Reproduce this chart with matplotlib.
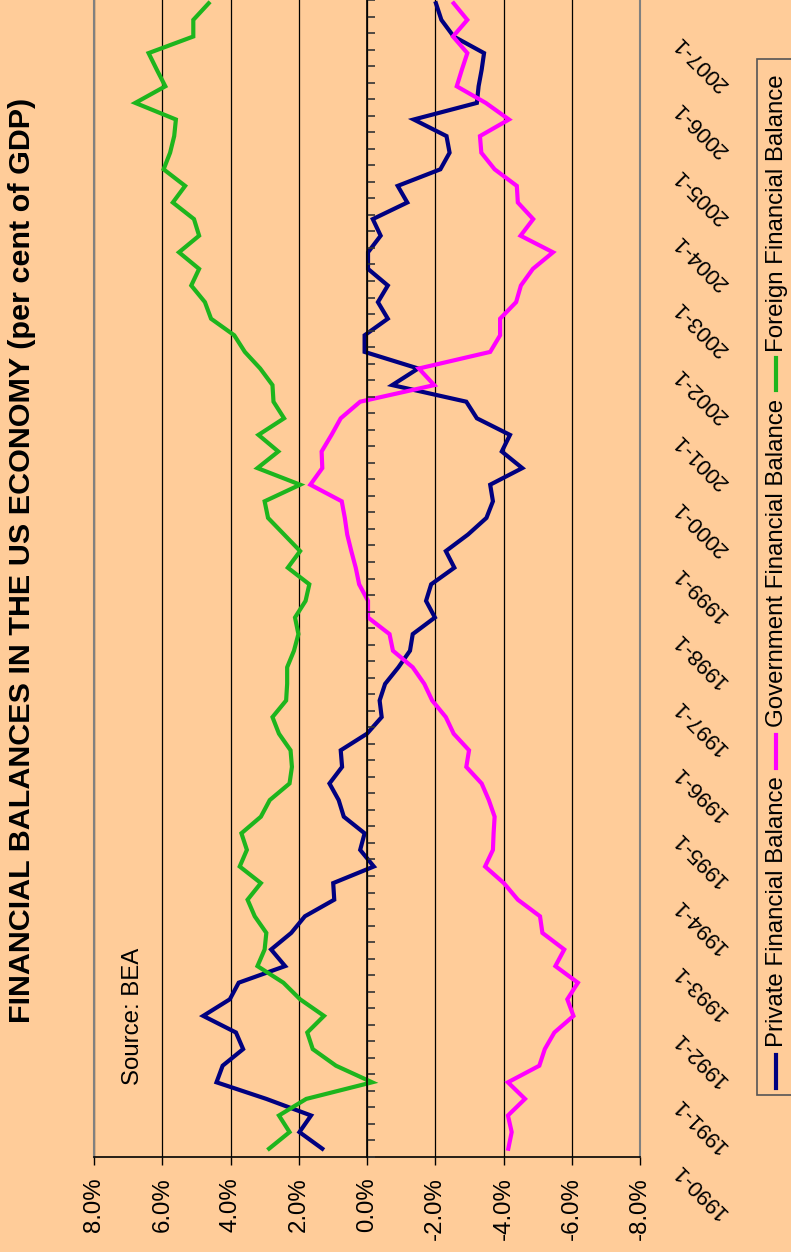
import numpy as np
import matplotlib
matplotlib.use('Agg')
import matplotlib.pyplot as plt
from matplotlib.transforms import blended_transform_factory
from matplotlib.lines import Line2D
from matplotlib.patches import Rectangle

plt.rcParams['font.family'] = ['Liberation Sans', 'DejaVu Sans']

# ---- data (per cent of GDP, quarterly from 1990-Q1) ----
private = [1.31, 1.98, 1.64, 2.95, 4.41, 4.23, 3.63, 3.84, 4.80, 4.02, 3.76, 2.40,
           2.81, 2.22, 1.82, 0.96, 0.99, -0.20, 0.20, 0.07, 0.68, 0.83, 1.10, 0.73,
           0.77, 0.00, -0.43, -0.37, -0.53, -0.92, -1.26, -1.34, -1.99, -1.73, -1.88, -2.56,
           -2.31, -2.96, -3.50, -3.69, -3.61, -4.55, -3.95, -4.19, -3.22, -2.91, -0.74, -1.50,
           0.07, 0.07, -0.61, -0.32, -0.61, -0.03, -0.03, -0.40, -0.17, -1.18, -0.90, -2.15,
           -2.42, -2.33, -1.37, -3.22, -3.27, -3.36, -3.43, -2.54, -2.18, -2.02]
government = [-4.14, -4.24, -4.13, -4.63, -4.13, -5.05, -5.21, -5.49, -6.05, -5.87, -6.18, -5.52,
              -5.78, -5.14, -5.07, -4.42, -4.01, -3.46, -3.69, -3.71, -3.74, -3.57, -3.36, -2.91,
              -2.99, -2.54, -2.31, -1.91, -1.68, -1.34, -0.76, -0.66, -0.03, -0.03, 0.23, 0.33,
              0.46, 0.58, 0.65, 0.74, 1.66, 1.31, 1.33, 1.04, 0.77, 0.20, -1.97, -1.52,
              -3.61, -3.90, -3.90, -4.37, -4.51, -4.86, -5.45, -4.50, -4.87, -4.42, -4.39, -3.74,
              -3.35, -3.31, -4.16, -3.48, -2.63, -2.78, -2.94, -2.52, -2.94, -2.54]
foreign = [2.87, 2.27, 2.58, 1.78, -0.15, 0.91, 1.59, 1.75, 1.26, 1.96, 2.45, 3.21,
           3.00, 2.95, 3.29, 3.50, 3.11, 3.73, 3.52, 3.68, 3.11, 2.85, 2.27, 2.20,
           2.24, 2.58, 2.77, 2.37, 2.34, 2.34, 2.14, 2.01, 2.11, 1.80, 1.69, 2.32,
           1.96, 2.43, 2.90, 3.00, 1.96, 3.21, 2.60, 3.18, 2.43, 2.74, 2.77, 3.13,
           3.58, 3.89, 4.57, 4.75, 5.15, 4.92, 5.51, 4.92, 5.07, 5.69, 5.33, 5.96,
           5.77, 5.65, 5.60, 6.79, 5.91, 6.16, 6.40, 5.09, 5.09, 4.64]
year_labels = ['1990-1', '1991-1', '1992-1', '1993-1', '1994-1', '1995-1', '1996-1',
               '1997-1', '1998-1', '1999-1', '2000-1', '2001-1', '2002-1', '2003-1',
               '2004-1', '2005-1', '2006-1', '2007-1']
value_ticks = [8, 6, 4, 2, 0, -2, -4, -6, -8]
value_labels = ['8.0%', '6.0%', '4.0%', '2.0%', '0.0%', '-2.0%', '-4.0%', '-6.0%', '-8.0%']
series_names = ['Private Financial Balance', 'Government Financial Balance',
                'Foreign Financial Balance']
series_colors = ['#000080', '#FF00FF', '#1DB51D']
title = 'FINANCIAL BALANCES IN THE US ECONOMY (per cent of GDP)'

BG = '#FFCC99'
W, H, DPI = 791, 1252, 100
PX = 72.0 / DPI  # points per pixel

fig = plt.figure(figsize=(W / DPI, H / DPI), dpi=DPI, facecolor=BG)

left_px, right_px, bottom_px = 94, 640, 1157
ax = fig.add_axes([left_px / W, (H - bottom_px) / H, (right_px - left_px) / W, bottom_px / H])
ax.set_facecolor(BG)

q = np.arange(len(private))
step_px = 16.6
ax.set_xlim(8, -8)
ax.set_ylim(-0.5, -0.5 + bottom_px / step_px)

# grid lines
for v in value_ticks:
    ax.axvline(v, color='black', lw=0.9, zorder=1)

for vals, col in zip([private, government, foreign], series_colors):
    ax.plot(vals, q, color=col, lw=3.0, solid_joinstyle='miter', zorder=3)

ax.set_xticks(value_ticks)
ax.set_xticklabels(value_labels, rotation=90, fontsize=24 * PX)
ax.tick_params(axis='x', direction='out', length=8 * PX, width=1, color='black', pad=12 * PX)
ax.set_yticks([])
for s in ['left', 'right']:
    ax.spines[s].set_color('#808080')
    ax.spines[s].set_linewidth(1.5)
ax.spines['top'].set_visible(False)
ax.spines['bottom'].set_color('black')
ax.spines['bottom'].set_linewidth(1.2)

# category axis crossing at zero
ax2 = ax.twinx()
ax2.set_ylim(ax.get_ylim())
for s in ['left', 'top', 'bottom']:
    ax2.spines[s].set_visible(False)
ax2.spines['right'].set_position(('data', 0))
ax2.spines['right'].set_color('black')
ax2.spines['right'].set_linewidth(1.2)
ax2.set_yticks(np.arange(len(private) + 1) - 0.5)
ax2.tick_params(axis='y', direction='out', length=8 * PX, width=1.2, color='#333333',
                labelright=False)

# year labels
tr = blended_transform_factory(ax.transAxes, ax.transData)
for k, lab in enumerate(year_labels):
    ax.text(1.066, 4 * k - 1.1, lab, transform=tr, rotation=135, ha='right', va='center',
            rotation_mode='anchor', fontsize=22 * PX, clip_on=False)

# source note
fig.text(133 / W, (H - 1085) / H, 'Source: BEA', rotation=90, ha='center', va='bottom',
         fontsize=24 * PX)

# title
fig.text(22 / W, (H - 560) / H, title, rotation=90, ha='center', va='center',
         fontsize=30.5 * PX, fontweight='bold')

# rotated legend
fig.add_artist(Rectangle((757 / W, (H - 1095) / H), 60 / W, (1095 - 59) / H,
                         transform=fig.transFigure, facecolor=BG, edgecolor='#555555',
                         lw=1.2, zorder=0))
marker_px = [(1088, 1055), (768, 735), (390, 358)]
text_px = [1047, 727, 352]
for name, col, (m0, m1), t0 in zip(series_names, series_colors, marker_px, text_px):
    fig.add_artist(Line2D([776 / W, 776 / W], [(H - m0) / H, (H - m1) / H],
                          transform=fig.transFigure, color=col, lw=3.0))
    fig.text(777 / W, (H - t0) / H, name, rotation=90, ha='center', va='bottom',
             fontsize=24 * PX)

fig.savefig('out.png', dpi=DPI, facecolor=BG)
